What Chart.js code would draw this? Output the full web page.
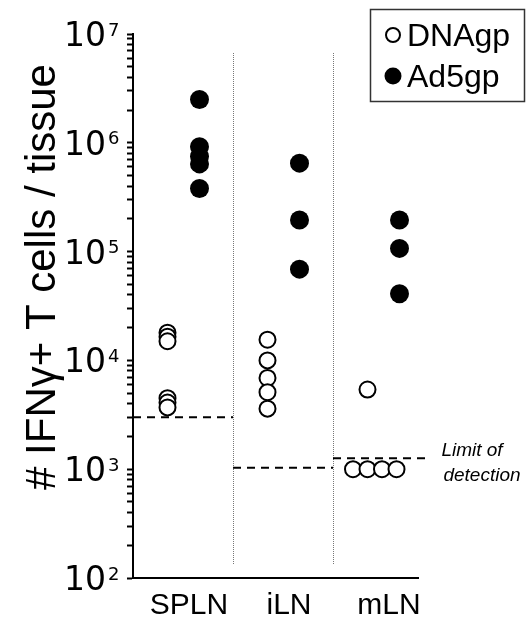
<!DOCTYPE html>
<html>
<head>
<meta charset="utf-8">
<script src="https://cdn.jsdelivr.net/npm/chart.js@4"></script>
<style>
html, body { margin: 0; padding: 0; background: #fff; }
</style>
</head>
<body>
<canvas id="chart" width="526" height="619"></canvas>
<script>
var groups = ['SPLN', 'iLN', 'mLN'];

// DNAgp (open symbols), one list per tissue
var dnaSPLN = [18000, 16500, 15000, 4500, 4100, 3700];
var dnaILN = [15500, 10000, 6900, 5100, 3600];
var dnaMLN = [5400, 1000, 1000, 1000, 1000];

// Ad5gp (filled symbols)
var adSPLN = [2500000, 920000, 750000, 640000, 380000];
var adILN = [650000, 195000, 69000];
var adMLN = [195000, 107000, 41000];

// limit of detection per tissue
var detectionLimit = [3000, 1030, 1260];

var yExponents = [2, 3, 4, 5, 6, 7];
var yTitle = '# IFNγ+ T cells / tissue';

// turn a list of values into scatter points for one column;
// repeated values are laid side by side
function column(values, x) {
    var seen = {};
    var counts = {};
    values.forEach(function(v) { counts[v] = (counts[v] || 0) + 1; });
    return values.map(function(v) {
        var k = seen[v] || 0;
        seen[v] = k + 1;
        var shift = counts[v] > 1 ? (k - 1) * 0.145 : 0;
        return { x: x + shift, y: v };
    });
}

var dnaAll = [dnaSPLN, dnaILN, dnaMLN];
var adAll = [adSPLN, adILN, adMLN];

var dnaPoints = [];
var adPoints = [];
groups.forEach(function(g, i) {
    dnaPoints = dnaPoints.concat(column(dnaAll[i], i + 0.345));
    adPoints = adPoints.concat(column(adAll[i], i + 0.665));
});

var limitSets = detectionLimit.map(function(v, i) {
    var end = i === groups.length - 1 ? i + 0.94 : i + 1;
    return {
        type: 'line',
        label: 'limit ' + groups[i],
        data: [{ x: i, y: v }, { x: end, y: v }],
        borderColor: '#000',
        borderWidth: 2,
        borderDash: [8, 6],
        pointRadius: 0,
        clip: false,
        order: 3
    };
});

var extras = {
    id: 'extras',
    beforeDatasetsDraw: function(chart) {
        var ctx = chart.ctx;
        var xs = chart.scales.x;
        var area = chart.chartArea;
        ctx.save();
        ctx.strokeStyle = '#777';
        ctx.lineWidth = 1;
        ctx.setLineDash([1, 1]);
        for (var i = 1; i < groups.length; i++) {
            var px = Math.round(xs.getPixelForValue(i)) + 0.5;
            ctx.beginPath();
            ctx.moveTo(px, area.top + 19);
            ctx.lineTo(px, area.bottom - 13);
            ctx.stroke();
        }
        ctx.restore();
    },
    afterDraw: function(chart) {
        var ctx = chart.ctx;
        var xs = chart.scales.x;
        var ys = chart.scales.y;
        ctx.save();
        ctx.fillStyle = '#000';

        // y tick labels as 10 with a raised exponent
        yExponents.forEach(function(e) {
            var py = ys.getPixelForValue(Math.pow(10, e));
            ctx.font = '33px "DejaVu Sans"';
            ctx.textAlign = 'right';
            ctx.textBaseline = 'alphabetic';
            ctx.fillText('10', 106, py + 12);
            ctx.font = '18px "DejaVu Sans"';
            ctx.textAlign = 'left';
            ctx.fillText(String(e), 108, py + 1.5);
        });

        // axis title, turned
        ctx.save();
        ctx.translate(55, 277);
        ctx.rotate(-Math.PI / 2);
        ctx.font = '42px "Liberation Sans", Arial, sans-serif';
        ctx.textAlign = 'center';
        ctx.textBaseline = 'alphabetic';
        ctx.fillText(yTitle, 0, 0);
        ctx.restore();

        // note next to the last detection line
        var last = groups.length - 1;
        var ly = ys.getPixelForValue(detectionLimit[last]);
        var lx = xs.getPixelForValue(last + 0.94) + 50;
        ctx.font = 'italic 19px "Liberation Sans", Arial, sans-serif';
        ctx.textAlign = 'center';
        ctx.fillText('Limit of', lx - 5, ly - 2);
        ctx.fillText('detection', lx + 5, ly + 23);

        // legend box
        ctx.strokeStyle = '#333';
        ctx.lineWidth = 1.5;
        ctx.strokeRect(370.5, 9.5, 154, 92);
        var items = chart.data.datasets.slice(0, 2);
        items.forEach(function(ds, i) {
            var cy = 35 + i * 41;
            ctx.beginPath();
            ctx.arc(393, cy, i === 0 ? 7 : 8.5, 0, Math.PI * 2);
            ctx.fillStyle = ds.backgroundColor;
            ctx.fill();
            if (ds.borderWidth) {
                ctx.lineWidth = 2;
                ctx.strokeStyle = '#000';
                ctx.stroke();
            }
            ctx.fillStyle = '#000';
            ctx.font = '32px "Liberation Sans", Arial, sans-serif';
            ctx.textAlign = 'left';
            ctx.fillText(ds.label, 407, cy + 11);
        });
        ctx.restore();
    }
};

new Chart(document.getElementById('chart'), {
    type: 'scatter',
    data: {
        datasets: [
            {
                label: 'DNAgp',
                data: dnaPoints,
                backgroundColor: '#fff',
                borderColor: '#000',
                borderWidth: 2,
                pointRadius: 8,
                order: 1
            },
            {
                label: 'Ad5gp',
                data: adPoints,
                backgroundColor: '#000',
                borderColor: '#000',
                borderWidth: 0,
                pointRadius: 9.5,
                order: 2
            }
        ].concat(limitSets)
    },
    options: {
        responsive: false,
        animation: false,
        layout: { padding: { top: 34, right: 108, bottom: 0, left: 0 } },
        plugins: {
            legend: { display: false },
            tooltip: { enabled: false }
        },
        scales: {
            x: {
                type: 'linear',
                min: 0,
                max: 2.85,
                afterBuildTicks: function(scale) {
                    scale.ticks = groups.map(function(g, i) { return { value: i + 0.56 }; });
                },
                afterFit: function(scale) { scale.height = 41; },
                grid: { display: false, drawTicks: false },
                border: { display: true, color: '#000', width: 2 },
                ticks: {
                    autoSkip: false,
                    maxRotation: 0,
                    padding: 10,
                    color: '#000',
                    font: { family: '"Liberation Sans", Arial, sans-serif', size: 30 },
                    callback: function(v, i) { return groups[i]; }
                }
            },
            y: {
                type: 'logarithmic',
                min: 100,
                max: 10000000,
                afterBuildTicks: function(scale) {
                    var t = [];
                    for (var e = 2; e < 7; e++) {
                        for (var m = 1; m < 10; m++) t.push({ value: m * Math.pow(10, e) });
                    }
                    t.push({ value: 1e7 });
                    scale.ticks = t;
                },
                afterFit: function(scale) { scale.width = 133; },
                grid: {
                    drawOnChartArea: false,
                    drawTicks: true,
                    tickLength: 6,
                    tickWidth: 2,
                    tickColor: '#000'
                },
                border: { display: true, color: '#000', width: 2 },
                ticks: { display: false }
            }
        }
    },
    plugins: [extras]
});
</script>
</body>
</html>
